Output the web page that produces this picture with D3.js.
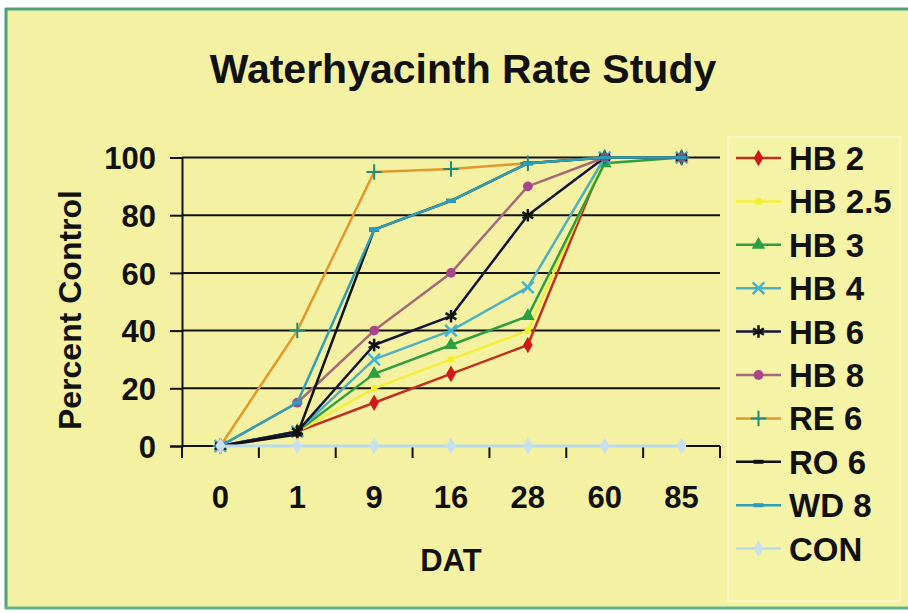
<!DOCTYPE html>
<html>
<head>
<meta charset="utf-8">
<script src="https://cdn.jsdelivr.net/npm/d3@7"></script>
<style>
  html, body { margin: 0; padding: 0; background: #ffffff; }
  svg { display: block; }
  text { font-family: "Liberation Sans", Arial, sans-serif; font-weight: bold; fill: #111; }
</style>
</head>
<body>
<svg id="chart" width="908" height="613"></svg>
<script>
// Days after treatment (category axis)
const categories = ["0", "1", "9", "16", "28", "60", "85"];
const yTicks = [0, 20, 40, 60, 80, 100];

// Percent control per treatment
const seriesNames = ["HB 2", "HB 2.5", "HB 3", "HB 4", "HB 6", "HB 8", "RE 6", "RO 6", "WD 8", "CON"];
const hb2   = [0, 5, 15, 25, 35, 100, 100];
const hb25  = [0, 5, 20, 30, 40, 100, 100];
const hb3   = [0, 5, 25, 35, 45, 98, 100];
const hb4   = [0, 5, 30, 40, 55, 100, 100];
const hb6   = [0, 5, 35, 45, 80, 100, 100];
const hb8   = [0, 15, 40, 60, 90, 100, 100];
const re6   = [0, 40, 95, 96, 98, 100, 100];
const ro6   = [0, 4, 75, 85, 98, 100, 100];
const wd8   = [0, 15, 75, 85, 98, 100, 100];
const con   = [0, 0, 0, 0, 0, 0, 0];
const seriesValues = [hb2, hb25, hb3, hb4, hb6, hb8, re6, ro6, wd8, con];

// Line colour, marker colour and marker kind for each treatment
const lineColors   = ["#c0301e", "#f2ee3a", "#2f9e3e", "#4fb0c0", "#14143a", "#a46a78", "#e0992e", "#111111", "#2fa0b6", "#b9d9ef"];
const markerColors = ["#d01a1a", "#f4f02a", "#2aa040", "#3fb2d6", "#111111", "#a8458c", "#1f8a7e", "#111111", "#2a9cc0", "#c6e0f2"];
const markerKinds  = ["diamond", "square", "triangle", "times", "asterisk", "circle", "plus", "dash", "dash", "diamond"];

const svg = d3.select("#chart");
const W = 908, H = 613;

// page background and frame
svg.append("rect").attr("x", 0).attr("y", 0).attr("width", W).attr("height", H).attr("fill", "#ffffff");
svg.append("rect").attr("x", 6).attr("y", 9).attr("width", W - 6).attr("height", 599).attr("fill", "#f4f2a2");
svg.append("line").attr("x1", 5).attr("x2", W).attr("y1", 9).attr("y2", 9)
  .attr("stroke", "#4f9f7c").attr("stroke-width", 3);
svg.append("line").attr("x1", 6).attr("x2", 6).attr("y1", 8).attr("y2", 609)
  .attr("stroke", "#4f9f7c").attr("stroke-width", 3);
svg.append("line").attr("x1", 5).attr("x2", W).attr("y1", 608).attr("y2", 608)
  .attr("stroke", "#5fb58a").attr("stroke-width", 3);

// scales
const x = d3.scaleBand().domain(categories).range([182, 720]).padding(0);
const y = d3.scaleLinear().domain([0, 100]).range([446, 157.5]);
const cx = c => x(c) + x.bandwidth() / 2;

// title
svg.append("text").attr("x", 463).attr("y", 83).attr("text-anchor", "middle")
  .style("font-size", "41px").text("Waterhyacinth Rate Study");

// gridlines
svg.append("g").selectAll("line").data(yTicks.filter(d => d > 0)).join("line")
  .attr("x1", 182).attr("x2", 720).attr("y1", d => y(d)).attr("y2", d => y(d))
  .attr("stroke", "#111").attr("stroke-width", 2);

// y axis
const yAxis = svg.append("g").attr("transform", "translate(182,0)")
  .call(d3.axisLeft(y).tickValues(yTicks).tickSize(12).tickPadding(14).tickFormat(d3.format("d")));
yAxis.select(".domain").attr("stroke", "#111").attr("stroke-width", 2);
yAxis.selectAll(".tick line").attr("stroke", "#111").attr("stroke-width", 2);
yAxis.selectAll(".tick text").style("font-size", "31px").style("font-family", "Liberation Sans, Arial, sans-serif")
  .style("font-weight", "bold").attr("fill", "#111").attr("dy", "0.36em");

// x axis: tick marks on band boundaries, labels at band centres
const xAxis = svg.append("g").attr("transform", "translate(0,446)");
xAxis.append("line").attr("x1", 182).attr("x2", 720).attr("y1", 0).attr("y2", 0)
  .attr("stroke", "#111").attr("stroke-width", 2);
const bounds = categories.map(c => x(c)).concat([x.range()[1]]);
xAxis.selectAll("line.tk").data(bounds).join("line").attr("class", "tk")
  .attr("x1", d => d).attr("x2", d => d).attr("y1", 0).attr("y2", 12)
  .attr("stroke", "#111").attr("stroke-width", 2);
xAxis.selectAll("text").data(categories).join("text")
  .attr("x", d => cx(d)).attr("y", 62).attr("text-anchor", "middle")
  .style("font-size", "31px").text(d => d);

// axis titles
svg.append("text").attr("x", 451).attr("y", 571).attr("text-anchor", "middle")
  .style("font-size", "31px").text("DAT");
svg.append("text").attr("transform", "translate(81,310) rotate(-90)").attr("text-anchor", "middle")
  .style("font-size", "32px").text("Percent Control");

// marker drawing
function drawMarker(g, kind, color, px, py) {
  const sym = {
    diamond: d3.symbolDiamond, square: d3.symbolSquare, triangle: d3.symbolTriangle,
    circle: d3.symbolCircle, times: d3.symbolTimes, plus: d3.symbolPlus, asterisk: d3.symbolAsterisk
  };
  if (kind === "dash") {
    g.append("line").attr("x1", px - 5).attr("x2", px + 5).attr("y1", py).attr("y2", py)
      .attr("stroke", color).attr("stroke-width", 4);
    return;
  }
  const stroked = kind === "times" || kind === "plus" || kind === "asterisk";
  const size = { diamond: 80, square: 40, triangle: 80, circle: 75, times: 90, plus: 80, asterisk: 110 }[kind];
  const p = g.append("path").attr("d", d3.symbol().type(sym[kind]).size(size)())
    .attr("transform", `translate(${px},${py})`);
  if (stroked) p.attr("fill", "none").attr("stroke", color).attr("stroke-width", kind === "plus" ? 2 : 2.5);
  else p.attr("fill", color).attr("stroke", "none");
}

// series lines and markers
const line = d3.line().x((d, i) => cx(categories[i])).y(d => y(d));
const plot = svg.append("g");
seriesValues.forEach((vals, s) => {
  const g = plot.append("g");
  g.append("path").attr("d", line(vals)).attr("fill", "none")
    .attr("stroke", lineColors[s]).attr("stroke-width", s === 9 ? 3 : 2.5)
    .attr("stroke-linejoin", "round");
  vals.forEach((v, i) => drawMarker(g, markerKinds[s], markerColors[s], cx(categories[i]), y(v)));
});

// legend
const lg = svg.append("g");
lg.append("rect").attr("x", 728).attr("y", 137).attr("width", 172).attr("height", 464)
  .attr("fill", "#f5f3a6").attr("stroke", "#f9f8cf").attr("stroke-width", 1.5);
seriesNames.forEach((name, s) => {
  const ly = 158 + s * 43.4;
  lg.append("line").attr("x1", 736).attr("x2", 781).attr("y1", ly).attr("y2", ly)
    .attr("stroke", lineColors[s]).attr("stroke-width", 2.5);
  drawMarker(lg, markerKinds[s], markerColors[s], 758.5, ly);
  lg.append("text").attr("x", 789).attr("y", ly + 12).style("font-size", "33px").text(name);
});
</script>
</body>
</html>
